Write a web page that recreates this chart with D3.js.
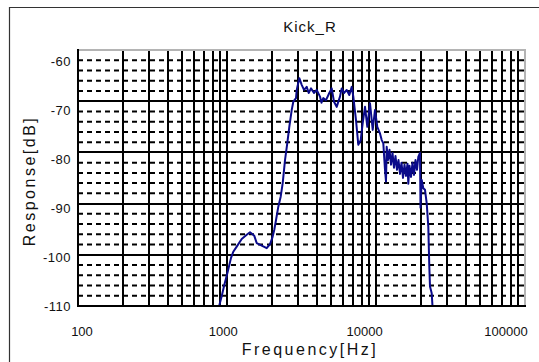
<!DOCTYPE html>
<html>
<head>
<meta charset="utf-8">
<script src="https://cdn.jsdelivr.net/npm/d3@7"></script>
<style>
  body { margin: 0; background: #fff; overflow: hidden; }
  text { font-family: "Liberation Sans", Arial, sans-serif; fill: #111; }
</style>
</head>
<body>
<script>
const freqHz = [
  884, 921, 959, 1011, 1064, 1102, 1162, 1255, 1356, 1427, 1525, 1582, 1710, 1847,
  1944, 2014, 2077, 2133, 2210, 2294, 2365, 2451, 2539, 2619, 2719, 2786, 2905, 2937,
  3057, 3172, 3288, 3427, 3534, 3662, 3837, 3999, 4209, 4307, 4429, 4617, 4860, 5043,
  5225, 5447, 5732, 5885, 6098, 6361, 6621, 6870, 7043, 7341, 7607, 7894, 8142, 8438,
  8743, 9115, 9504, 9848, 10202, 10637, 10923, 11194, 11492, 11671,
  11798, 12038, 12320, 12609, 12905, 13207, 13517, 13833, 14158, 14490, 14830, 15178,
  15534, 15898, 16271, 16473, 16781, 17175, 17578, 17990, 18412, 18843, 19225, 19737,
  19891, 20262, 20767, 21323, 21889, 22439, 22788, 23036, 23651, 24020
];
const responseDb = [
  -110.1, -108.1, -105.9, -103.3, -100.6, -99.4, -98.4, -96.9, -96.1, -95.6, -96.3, -97.7, -98.2, -98.7,
  -97.9, -96.7, -95.1, -93.2, -90.6, -88.6, -86.0, -81.5, -78.2, -75.0, -71.7, -70.1, -69.4, -67.8,
  -65.5, -66.8, -67.8, -67.2, -68.4, -67.5, -68.4, -67.8, -69.1, -70.3, -69.4, -69.8, -68.4, -67.5,
  -70.1, -71.1, -69.1, -67.5, -68.4, -67.8, -68.8, -67.2, -69.1, -73.7, -78.5, -77.6, -74.3, -71.1,
  -75.0, -70.4, -75.6, -71.7, -75.0, -76.3, -77.6, -78.2, -83.4, -85.7,
  -78.9, -81.5, -79.5, -82.4, -80.1, -83.0, -80.7, -83.4, -81.5, -84.2, -82.0, -85.0,
  -82.4, -84.6, -82.2, -86.1, -82.6, -84.8, -82.0, -84.4, -81.5, -83.4, -80.9, -80.1,
  -90.8, -85.4, -87.0, -87.3, -89.9, -94.5, -102.3, -106.2, -107.5, -110.7
];

const xTickValues = [100, 1000, 10000, 100000];
const yTickValues = [-60, -70, -80, -90, -100, -110];
const chartTitle = 'Kick_R';
const xTitle = 'Frequency[Hz]';
const yTitle = 'Response[dB]';

const width = 539;
const height = 362;
const plot = { left: 78, top: 50, right: 525, bottom: 306 };

const svg = d3.select('body').append('svg')
  .attr('width', width)
  .attr('height', height);

svg.append('rect').attr('width', width).attr('height', height).attr('fill', '#fff');

// outer frame (only top and left edges are visible)
svg.append('path')
  .attr('d', `M9.5,${height} V7.5 H${width}`)
  .attr('fill', 'none')
  .attr('stroke', '#333')
  .attr('stroke-width', 1.2);

const xScale = d3.scaleLog().domain([100, 100000]).range([plot.left, plot.right]);
const yScale = d3.scaleLinear().domain([-110, -60]).range([plot.bottom, plot.top]);

// tick labels are spread a little inside the axis ends
const xLabelScale = d3.scaleLog().domain([100, 100000]).range([82, 506]);
const yLabelScale = d3.scaleLinear().domain([-110, -60]).range([306, 61]);

const grid = svg.append('g');

// dashed minor rows every 2 dB
grid.selectAll('.minor-y')
  .data(yScale.ticks(25).filter((d) => d % 10 !== 0))
  .join('line')
  .attr('x1', plot.left).attr('x2', plot.right)
  .attr('y1', (d) => yScale(d)).attr('y2', (d) => yScale(d))
  .attr('stroke', '#000')
  .attr('stroke-width', 2)
  .attr('stroke-dasharray', '5,4');

// vertical lines at 1..9 per decade
grid.selectAll('.vx')
  .data(xScale.ticks().filter((d) => d > 100 && d < 100000))
  .join('line')
  .attr('x1', (d) => Math.round(xScale(d))).attr('x2', (d) => Math.round(xScale(d)))
  .attr('y1', plot.top).attr('y2', plot.bottom)
  .attr('stroke', '#000')
  .attr('stroke-width', 2);

// solid rows every 10 dB
grid.selectAll('.major-y')
  .data(yTickValues.filter((d) => d > -110 && d < -60))
  .join('line')
  .attr('x1', plot.left).attr('x2', plot.right)
  .attr('y1', (d) => Math.round(yScale(d))).attr('y2', (d) => Math.round(yScale(d)))
  .attr('stroke', '#000')
  .attr('stroke-width', 2);

// grey top / right border
svg.append('path')
  .attr('d', `M${plot.left},${plot.top} H${plot.right} V${plot.bottom}`)
  .attr('fill', 'none')
  .attr('stroke', '#b4b4b4')
  .attr('stroke-width', 2);

svg.append('clipPath').attr('id', 'clip')
  .append('rect')
  .attr('x', plot.left).attr('y', plot.top)
  .attr('width', plot.right - plot.left).attr('height', plot.bottom - plot.top);

const line = d3.line()
  .x((d, i) => xScale(freqHz[i]))
  .y((d) => yScale(d));

svg.append('path')
  .datum(responseDb)
  .attr('clip-path', 'url(#clip)')
  .attr('fill', 'none')
  .attr('stroke', '#0a0a8a')
  .attr('stroke-width', 2)
  .attr('stroke-linejoin', 'round')
  .attr('d', line);

// black left / bottom axes
svg.append('path')
  .attr('d', `M${plot.left},${plot.top - 1} V${plot.bottom} H${plot.right + 1}`)
  .attr('fill', 'none')
  .attr('stroke', '#000')
  .attr('stroke-width', 2);

svg.append('g').selectAll('text')
  .data(yTickValues)
  .join('text')
  .attr('x', 71)
  .attr('y', (d) => yLabelScale(d))
  .attr('dy', '0.35em')
  .attr('text-anchor', 'end')
  .attr('font-size', 13)
  .attr('letter-spacing', 0.5)
  .text((d) => d);

svg.append('g').selectAll('text')
  .data(xTickValues)
  .join('text')
  .attr('x', (d) => xLabelScale(d))
  .attr('y', 336)
  .attr('text-anchor', 'middle')
  .attr('font-size', 13)
  .text((d) => d);

svg.append('text')
  .attr('x', 310)
  .attr('y', 32)
  .attr('text-anchor', 'middle')
  .attr('font-size', 15)
  .attr('letter-spacing', 1)
  .text(chartTitle);

svg.append('text')
  .attr('x', 310)
  .attr('y', 355)
  .attr('text-anchor', 'middle')
  .attr('font-size', 16)
  .attr('letter-spacing', 2.5)
  .text(xTitle);

svg.append('text')
  .attr('transform', 'translate(35,181) rotate(-90)')
  .attr('text-anchor', 'middle')
  .attr('font-size', 16)
  .attr('letter-spacing', 2.5)
  .text(yTitle);
</script>
</body>
</html>
